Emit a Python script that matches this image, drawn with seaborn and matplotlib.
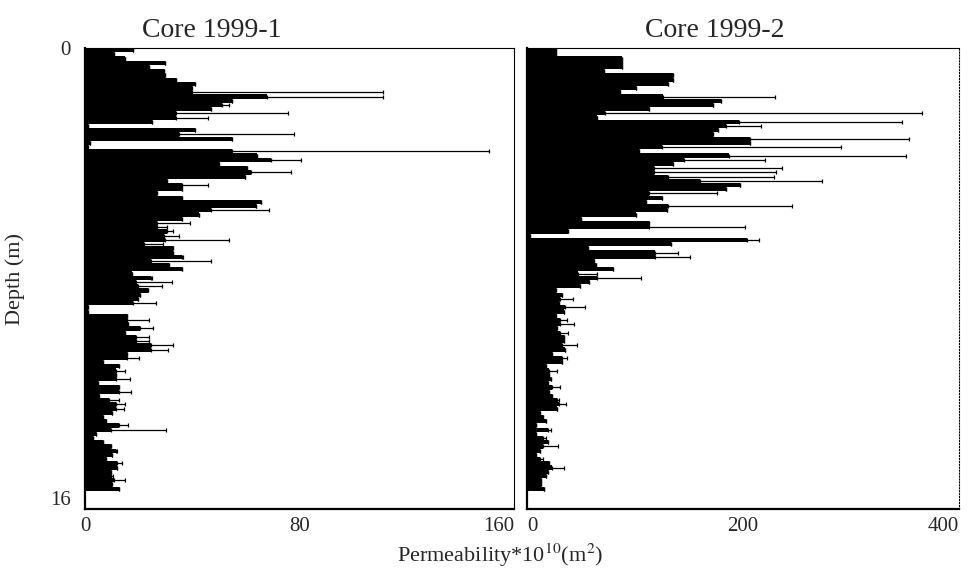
import numpy as np
import pandas as pd
import seaborn as sns
import matplotlib
matplotlib.use("Agg")
import matplotlib.pyplot as plt

# sample depths down each core (m), 15 cm sampling interval
depth_m = [round(0.075 + 0.15 * i, 3) for i in range(105)]

# Core 1999-1: permeability * 1e10 (m^2), bar value and upper error
core1_perm = [
    18, 10.8, 15, 30, 24, 29.5, 30, 34, 41, 40,
    40, 68, 55, 51, 47, 34, 34, 25, 1, 41,
    35, 55, 2, 1, 55, 64, 69.5, 50, 60.6, 62,
    59.5, 30.6, 36, 36, 27, 36, 65.5, 63.8, 47, 42.6,
    36, 27, 27, 30.6, 29.5, 30, 22, 33, 33, 36,
    24.7, 31.4, 36, 17.4, 24.6, 19.2, 19.8, 23.4, 20.4, 19.8,
    18, 1, 1, 15.6, 15.6, 16.2, 20.4, 15, 19.2, 19.2,
    24.6, 24.6, 15.6, 15.6, 6.6, 12.6, 11.4, 11.6, 11.4, 5,
    12.6, 12.6, 5.4, 9, 11.4, 11.4, 10.2, 6.6, 7.8, 12.6,
    9.6, 4.2, 3, 6.6, 9.6, 11.4, 10.2, 7.8, 12, 12,
    9.6, 9.6, 10.8, 10.2, 12.6,
]
core1_err = [
    0, 0, 0, 0, 0, 0, 0, 0, 0, 0,
    71, 43, 0, 2.7, 0, 41.7, 12, 0, 0, 0,
    43, 0, 0, 0, 95.6, 0, 11.2, 0, 0, 14.8,
    0, 0, 10, 0, 0, 0, 0, 0, 21.5, 0,
    0, 12, 3.6, 2.4, 5.5, 23.7, 7, 0, 0, 0.5,
    22.3, 0, 0, 0, 0.4, 13.2, 9, 0, 0, 0,
    8.4, 0, 0, 0, 8.2, 0, 4.9, 0, 4.8, 4.8,
    8.2, 6.4, 0, 4.4, 0, 0.2, 3.4, 0, 5.5, 0,
    0, 4.7, 0, 3.6, 3.4, 3, 0, 0, 0, 3.6,
    20.7, 0, 0, 0, 0, 0.4, 0, 0, 1.8, 0,
    0, 0.8, 4.2, 0, 0,
]

# Core 1999-2
core2_perm = [
    26.5, 26.5, 88.4, 88.4, 88.4, 71.7, 135, 135, 130.7, 101,
    86, 126, 179.8, 172.3, 112.8, 72.6, 65.2, 196, 184.2, 176.8,
    172.3, 206.5, 206.5, 124.7, 103.9, 187.2, 145.5, 135, 117.3, 117.3,
    130.7, 160.4, 197.6, 184.2, 112.8, 124.7, 109.8, 130.7, 129.2, 101,
    50, 112.8, 112.8, 38.4, 3, 203.6, 133.6, 56.3, 118.8, 118.8,
    62.2, 63.7, 80, 47.3, 65.2, 57.7, 48.8, 26.5, 32.4, 31,
    29.5, 35.4, 33.9, 26.5, 31, 31, 28, 31, 33.9, 33.9,
    32.4, 35.4, 23.5, 32.4, 32.4, 17.6, 20.5, 20.5, 22, 19,
    23.5, 20.5, 23.5, 28, 29.5, 28, 11.6, 14.6, 17.6, 8.6,
    19, 8.6, 14.6, 19, 14.6, 11.6, 8.6, 11.6, 20.5, 23.5,
    19, 17.6, 13.1, 13.1, 16.1,
]
core2_err = [
    0, 0, 0, 0, 0, 0, 0, 0, 0, 0,
    0, 103.8, 0, 0, 0, 293.2, 0, 151, 32.8, 0,
    0, 146.8, 0, 166.1, 0, 163.8, 74.5, 0, 119, 113.1,
    98.2, 112.5, 0, 0, 63.1, 0, 0, 114.5, 0, 0,
    0, 0, 89.2, 0, 0, 11, 0, 0, 21.4, 31.8,
    0, 0, 0, 17.9, 40.2, 0, 0, 0, 0, 11.9,
    0, 17.9, 0, 0, 5.9, 12.75, 0, 7.4, 0, 0,
    14.3, 0, 0, 4.5, 0, 0, 7.5, 0, 0, 0,
    7.5, 0, 0, 1.5, 6.8, 0, 0, 0, 0, 0,
    3, 0, 3, 0, 14.3, 0, 0, 3, 0, 10.4,
    0, 0, 0, 0, 0,
]

sns.set_style("white")
plt.rcParams["font.family"] = ["Liberation Serif", "DejaVu Serif"]
plt.rcParams["mathtext.fontset"] = "stix"


def draw_core(ax, perm, err, title, title_x, xmax, ticks):
    df = pd.DataFrame({"depth": depth_m, "perm": perm, "err": err})
    sns.barplot(data=df, x="perm", y="depth", orient="h", native_scale=True,
                color="black", saturation=1, width=1.0, errorbar=None,
                linewidth=0, ax=ax)
    ax.errorbar(df["perm"], df["depth"], xerr=[np.zeros(len(df)), df["err"]],
                fmt="none", ecolor="black", elinewidth=0.9, capsize=1.5,
                capthick=0.9)
    ax.set_xlim(0, xmax)
    ax.set_ylim(16.4, 0)
    ax.set_xticks(ticks)
    ax.set_xticklabels([str(t) for t in ticks])
    ax.set_xlabel("")
    ax.set_ylabel("")
    ax.set_title(title, fontsize=20, x=title_x, pad=8)
    ax.tick_params(axis="x", direction="inout", length=10, width=1.2,
                   labelsize=15, pad=1)
    for side in ["left", "bottom"]:
        ax.spines[side].set_linewidth(1.6)
    for side in ["top", "right"]:
        ax.spines[side].set_linewidth(0.8)
    for side in ax.spines:
        ax.spines[side].set_color("black")


fig = plt.figure(figsize=(9.68, 5.69), dpi=100)
ax1 = fig.add_axes([0.0878, 0.1054, 0.4432, 0.8102])
ax2 = fig.add_axes([0.5444, 0.1054, 0.4463, 0.8102])

draw_core(ax1, core1_perm, core1_err, "Core 1999-1", 0.296, 160, [0, 80, 160])
draw_core(ax2, core2_perm, core2_err, "Core 1999-2", 0.435, 400, [0, 200, 400])

# left panel depth axis
ax1.set_yticks([0, 16])
ax1.set_yticklabels(["0", "16"])
ax1.tick_params(axis="y", length=0, labelsize=15, pad=10)
ax1.set_ylabel("Depth (m)", fontsize=16, labelpad=18)
ax1.get_xticklabels()[-1].set_horizontalalignment("right")

ax2.set_yticks([])
ax2.spines["right"].set_linestyle(":")
ax2.get_xticklabels()[0].set_horizontalalignment("left")
ax2.get_xticklabels()[-1].set_horizontalalignment("right")

fig.text(0.517, 0.024, r"Permeability*10$^{10}$(m$^{2}$)", fontsize=16,
         ha="center", va="center")

fig.savefig("out.png", dpi=100)
plt.close(fig)
